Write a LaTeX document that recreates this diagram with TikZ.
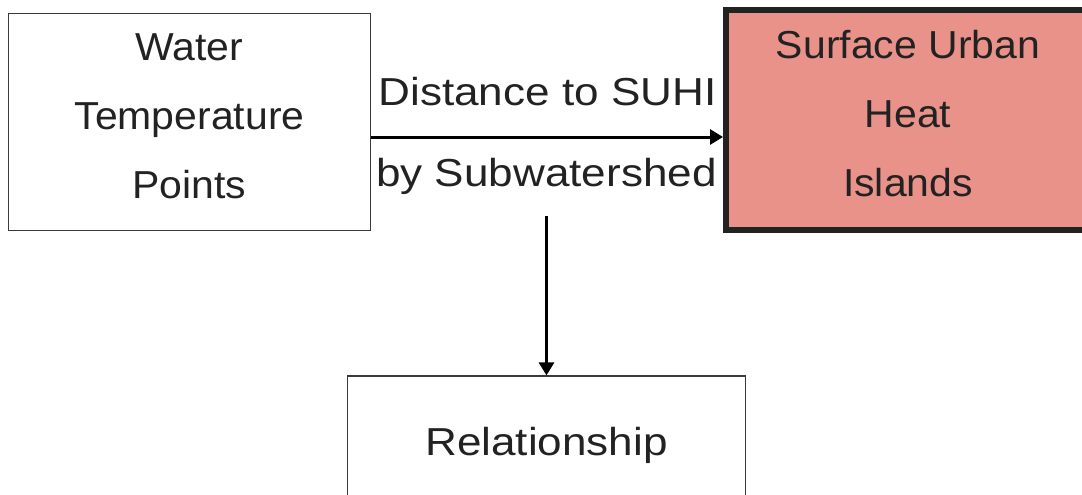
\documentclass[tikz,border=0pt]{standalone}
\usepackage{fontspec}
\setmainfont{Liberation Sans}[FakeStretch=1.05]
\newfontfamily\lblfont{Liberation Sans}[FakeStretch=1.13]
\usepackage{tikz}
\usetikzlibrary{arrows.meta,positioning,calc}
\definecolor{SuhiRed}{HTML}{E9928A}
\definecolor{InkGray}{HTML}{222222}
\definecolor{EdgeGray}{HTML}{3A3A3A}

\begin{document}
\begin{tikzpicture}[x=1pt,y=-1pt,
  box/.style={draw=EdgeGray,line width=1.2pt,align=center,text=InkGray,font=\fontsize{39pt}{69pt}\selectfont},
  heat/.style={draw=InkGray,line width=6pt,fill=SuhiRed,align=center,text=InkGray,font=\fontsize{39pt}{69pt}\selectfont},
  lbl/.style={inner sep=0pt,text=InkGray,font=\lblfont\fontsize{39pt}{47pt}\selectfont},
  arrow/.style={-{Triangle[length=13pt,width=15pt]},line width=3pt}
]
\clip (0,0) rectangle (1082,495);
\node[box,minimum width=362pt,minimum height=217pt,text depth=11pt] (wtp) at (189.5,122) {Water\\Temperature\\Points};
\node[heat,minimum width=364pt,minimum height=220pt,text depth=14pt] (suhi) at (908,120.3) {Surface Urban\\Heat\\Islands};
\node[box,minimum width=398pt,minimum height=138pt,font=\lblfont\fontsize{39pt}{47pt}\selectfont] (rel) at (546.5,445) {Relationship};
\node[lbl] (dist) at (547.5,92) {Distance to SUHI};
\node[lbl] (bysub) at (546.5,176) {by Subwatershed};
\draw[arrow] ([yshift=-15pt]wtp.east) -- ([yshift=-15pt]wtp.east -| suhi.west);
\draw[arrow] ([yshift=-22pt]bysub.south) -- (rel.north);
\end{tikzpicture}
\end{document}
